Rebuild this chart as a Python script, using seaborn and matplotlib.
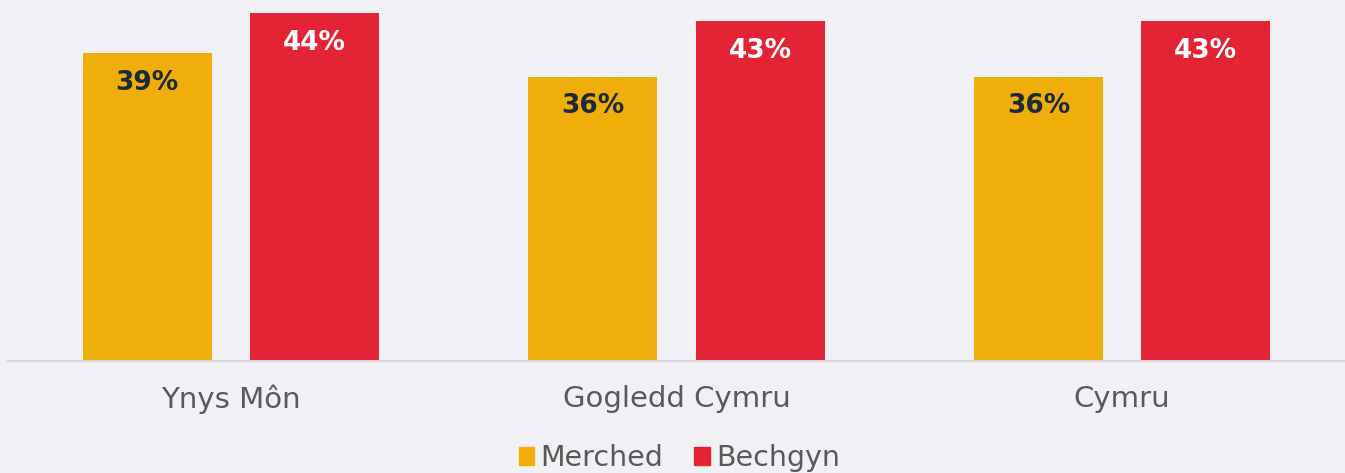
import numpy as np
import pandas as pd
import matplotlib.pyplot as plt
import seaborn as sns

# data
regions = ['Ynys Môn', 'Gogledd Cymru', 'Cymru']
groups = ['Merched', 'Bechgyn']
merched = [39, 36, 36]
bechgyn = [44, 43, 43]

bg = '#F1F0F5'
colours = {'Merched': '#F0AE0A', 'Bechgyn': '#E32434'}
label_colours = {'Merched': '#1C2B39', 'Bechgyn': '#FFFFFF'}

df = pd.DataFrame({
    'region': regions * 2,
    'group': ['Merched'] * 3 + ['Bechgyn'] * 3,
    'value': merched + bechgyn,
})

sns.set_style('white')
plt.rcParams['font.family'] = ['DejaVu Sans']

fig = plt.figure(figsize=(13.45, 4.73), dpi=100, facecolor=bg)
ax = fig.add_axes([8 / 1345, 112 / 473, 1337 / 1345, 361 / 473])
ax.set_facecolor(bg)

sns.barplot(data=df, x='region', y='value', hue='group', hue_order=groups,
            order=regions, palette=colours, width=0.75, gap=0.228,
            saturation=1, linewidth=0, ax=ax, legend=False)

ax.set_ylim(0, 361 / 7.9)
ax.set_xlim(-0.5, 2.5)
ax.set_xlabel('')
ax.set_ylabel('')
ax.set_yticks([])
for s in ['top', 'right', 'left']:
    ax.spines[s].set_visible(False)
ax.spines['bottom'].set_color('#D9D9D9')
ax.spines['bottom'].set_linewidth(1.5)
ax.tick_params(axis='x', length=0, pad=17, labelsize=21, labelcolor='#595959')

for cont, g in zip(ax.containers, groups):
    for bar in cont:
        h = bar.get_height()
        ax.annotate(f'{h:.0f}%', (bar.get_x() + bar.get_width() / 2, h),
                    xytext=(0, -21.5), textcoords='offset points',
                    ha='center', va='center', fontsize=19,
                    fontweight='heavy', color=label_colours[g])

handles = [plt.Rectangle((0, 0), 1, 1, color=colours[g]) for g in groups]
fig.legend(handles, groups, loc='center', bbox_to_anchor=(0.505, 15 / 473),
           ncol=2, frameon=False, fontsize=20.5, labelcolor='#595959',
           handlelength=0.56, handleheight=0.56, handletextpad=0.2,
           columnspacing=1.1, borderpad=0)

fig.savefig('out.png', dpi=100, facecolor=bg)
